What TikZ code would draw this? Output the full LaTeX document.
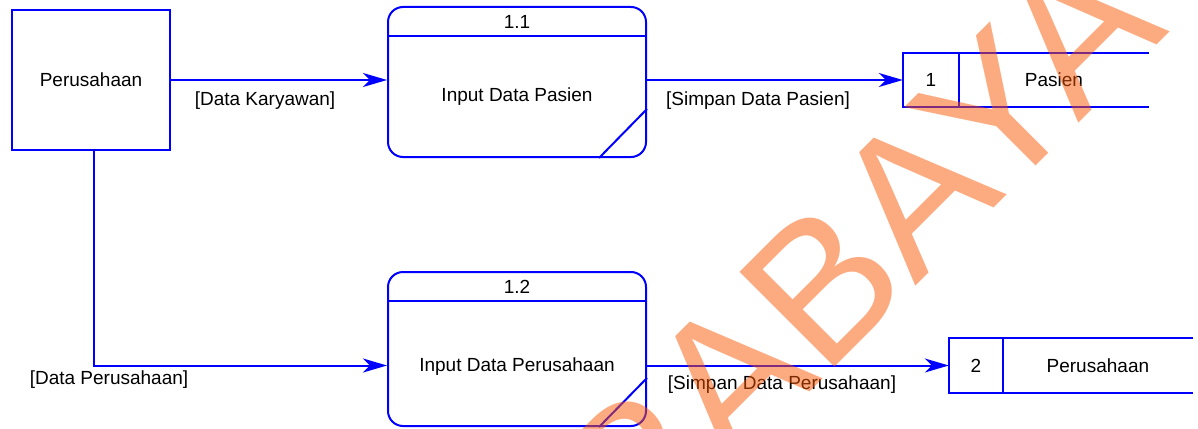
\documentclass[tikz,border=0pt]{standalone}
\usepackage{fontspec}
\setmainfont{Liberation Sans}
\usetikzlibrary{arrows.meta}
\definecolor{dblue}{RGB}{0,0,255}
\definecolor{wm}{RGB}{250,85,0}
\tikzset{
  base/.style={font=\fontsize{19}{22}\selectfont, text=black},
  entity/.style={base, draw=dblue, line width=2pt, minimum width=158pt, minimum height=140pt, inner sep=0pt},
  proc/.style={draw=dblue, line width=2pt, rounded corners=15pt, minimum width=258pt, inner sep=0pt},
  ptext/.style={base, inner sep=0pt},
  snum/.style={base, minimum width=56pt, minimum height=54pt, inner sep=0pt},
  sname/.style={base, minimum width=189pt, minimum height=54pt, inner sep=0pt},
  sline/.style={draw=dblue, line width=2pt},
  flow/.style={draw=dblue, line width=2pt, -{Stealth[length=24pt, width=14pt, inset=7pt]}},
  lbl/.style={base, inner sep=0pt},
  watermark/.style={rotate=45, anchor=base west, text=wm, text opacity=0.5, inner sep=0pt, font=\fontsize{195}{195}\selectfont}
}
\begin{document}
\begin{tikzpicture}[x=1pt, y=-1pt]
\useasboundingbox (0,0) rectangle (1198,428);
\clip (0,0) rectangle (1198,428);
% external entity
\node[entity] (ent) at (91,80) {Perusahaan};
% processes
\node[proc, minimum height=150pt] (p1) at (517,82) {};
\node[ptext] (p1id) at (517,22) {1.1};
\node[ptext] (p1t) at (517,97) {Input Data Pasien};
\draw[sline] ([yshift=-30pt]p1.north west) -- ([yshift=-30pt]p1.north east);
\draw[sline] ([yshift=49pt]p1.south east) -- ([xshift=-48pt]p1.south east);
\node[proc, minimum height=154pt] (p2) at (517,349) {};
\node[ptext] (p2id) at (517,287) {1.2};
\node[ptext] (p2t) at (517,367) {Input Data Perusahaan};
\draw[sline] ([yshift=-30pt]p2.north west) -- ([yshift=-30pt]p2.north east);
\draw[sline] ([yshift=49pt]p2.south east) -- ([xshift=-48pt]p2.south east);
% data stores
\node[snum] (s1n) at (931,80) {1};
\node[sname, anchor=west] (s1) at (s1n.east) {Pasien};
\draw[sline] (s1.north east) -- (s1n.north west) -- (s1n.south west) -- (s1.south east);
\draw[sline] (s1n.north east) -- (s1n.south east);
\node[snum, minimum width=54pt, minimum height=55pt] (s2n) at (976,365.5) {2};
\node[sname, minimum height=55pt, anchor=west] (s2) at (s2n.east) {Perusahaan};
\draw[sline] (s2.north east) -- (s2n.north west) -- (s2n.south west) -- (s2.south east);
\draw[sline] (s2n.north east) -- (s2n.south east);
% flows
\draw[flow] (ent.east |- s1n) -- (p1.west |- s1n);
\draw[flow] (p1.east |- s1n) -- (s1n.west);
\draw[flow] ([xshift=3pt]ent.south) |- (p2.west |- s2n);
\draw[flow] (p2.east |- s2n) -- (s2n.west);
% labels
\node[lbl] (l1) at (265,101) {[Data Karyawan]};
\node[lbl] (l2) at (758,101) {[Simpan Data Pasien]};
\node[lbl] (l3) at (109,380) {[Data Perusahaan]};
\node[lbl] (l4) at (782,385) {[Simpan Data Perusahaan]};
% watermark
\node[watermark] (wmk) at (440,762) {SURABAYA};
\end{tikzpicture}
\end{document}
